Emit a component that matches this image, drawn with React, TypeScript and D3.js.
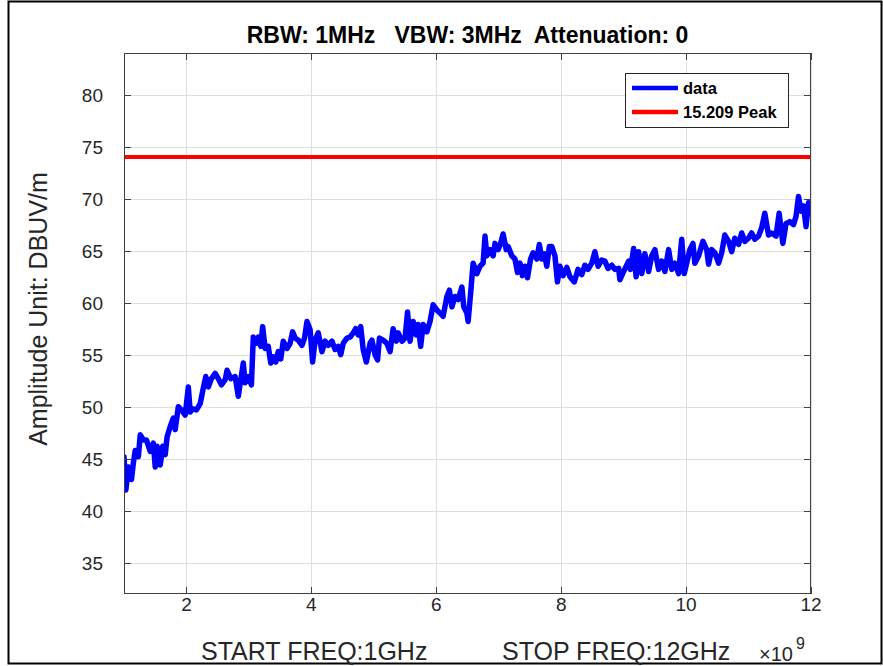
import React from "react";
import * as d3 from "d3";

// frequency in GHz (axis shows x10^9)
const freqGHz = [
  1.0, 1.03, 1.07, 1.12, 1.15, 1.18, 1.23, 1.26, 1.31, 1.36, 1.42, 1.47, 1.5, 1.53, 1.58, 1.62, 1.66, 1.69, 1.74, 1.79,
  1.82, 1.87, 1.92, 1.98, 2.03, 2.06, 2.1, 2.16, 2.22, 2.27, 2.31, 2.35, 2.4, 2.46, 2.51, 2.56, 2.62, 2.65, 2.71, 2.78,
  2.83, 2.91, 2.94, 2.99, 3.04, 3.07, 3.12, 3.15, 3.19, 3.22, 3.26, 3.31, 3.35, 3.39, 3.43, 3.47, 3.51, 3.55, 3.61, 3.66,
  3.7, 3.74, 3.79, 3.85, 3.89, 3.93, 3.98, 4.02, 4.06, 4.11, 4.17, 4.22, 4.27, 4.33, 4.38, 4.43, 4.47, 4.51, 4.57, 4.62,
  4.67, 4.71, 4.75, 4.79, 4.83, 4.88, 4.94, 4.97, 5.02, 5.06, 5.09, 5.15, 5.21, 5.26, 5.31, 5.36, 5.39, 5.45, 5.5, 5.54,
  5.58, 5.63, 5.68, 5.71, 5.75, 5.79, 5.85, 5.9, 5.95, 6.01, 6.06, 6.11, 6.17, 6.21, 6.25, 6.3, 6.35, 6.41, 6.44, 6.49,
  6.51, 6.55, 6.59, 6.65, 6.7, 6.75, 6.78, 6.81, 6.86, 6.91, 6.94, 6.99, 7.03, 7.07, 7.12, 7.15, 7.21, 7.26, 7.3, 7.34,
  7.38, 7.42, 7.46, 7.51, 7.55, 7.61, 7.65, 7.69, 7.73, 7.77, 7.81, 7.85, 7.9, 7.94, 7.98, 8.03, 8.09, 8.14, 8.21, 8.27,
  8.33, 8.38, 8.43, 8.49, 8.54, 8.59, 8.65, 8.7, 8.75, 8.81, 8.86, 8.92, 8.94, 9.0, 9.08, 9.11, 9.16, 9.2, 9.24, 9.29,
  9.34, 9.4, 9.45, 9.5, 9.56, 9.61, 9.66, 9.72, 9.77, 9.82, 9.88, 9.93, 9.97, 10.01, 10.06, 10.11, 10.14, 10.2, 10.27, 10.33,
  10.36, 10.41, 10.46, 10.52, 10.57, 10.62, 10.68, 10.73, 10.78, 10.84, 10.89, 10.94, 11.0, 11.05, 11.1, 11.16, 11.21, 11.26, 11.32, 11.37,
  11.44, 11.49, 11.55, 11.6, 11.66, 11.72, 11.76, 11.8, 11.84, 11.88, 11.92, 11.96, 12.0,
];

const amplitude = [
  45.2, 42, 44.2, 43, 44.6, 45.8, 45.2, 47.3, 46.8, 46.8, 45.7, 46.5, 44.2, 46.2, 44.4, 46.2, 45.4, 47.1, 48.1, 48.9,
  47.8, 50.0, 49.7, 49.2, 51.9, 49.5, 49.8, 49.7, 50.3, 51.8, 52.9, 51.9, 52.7, 53.2, 52.7, 52.1, 52.6, 53.5, 52.7, 52.9,
  51.0, 54.2, 52.3, 52.9, 52.1, 56.7, 56.1, 56.7, 55.8, 57.7, 55.6, 55.8, 54.2, 54.8, 54.3, 55.3, 54.6, 56.3, 55.6, 56.1,
  57.2, 56.6, 56.4, 55.9, 56.6, 58.2, 57.4, 54.3, 56.4, 57.1, 55.3, 56.3, 55.9, 56.3, 55.5, 55.8, 55.0, 56.1, 56.6, 56.7,
  57.1, 57.5, 56.9, 57.7, 55.5, 54.3, 56.1, 56.4, 55.0, 54.5, 56.6, 56.4, 56.1, 55.3, 57.5, 56.3, 57.1, 56.3, 56.6, 59.1,
  56.3, 58.2, 56.9, 57.9, 55.8, 57.9, 57.2, 58.2, 59.8, 59.3, 59.0, 58.7, 60.6, 61.2, 59.6, 60.6, 60.3, 61.5, 59.6, 59.0,
  58.2, 60.9, 63.8, 62.8, 63.5, 63.8, 66.4, 64.5, 65.1, 64.5, 65.7, 65.1, 65.7, 66.6, 65.1, 65.4, 64.5, 64.2, 62.9, 63.8,
  62.6, 63.5, 62.4, 64.2, 64.8, 64.2, 65.6, 64.2, 64.7, 63.5, 65.4, 65.4, 64.5, 62.0, 63.5, 62.6, 63.4, 62.5, 62.0, 63.2,
  62.7, 63.6, 63.2, 63.8, 64.9, 63.5, 64.1, 64.0, 63.3, 63.6, 63.2, 63.3, 62.2, 63.0, 64.0, 63.2, 65.2, 62.5, 64.9, 62.8,
  64.7, 63.0, 64.5, 65.1, 63.2, 64.0, 63.0, 65.1, 63.2, 63.8, 62.8, 66.1, 62.8, 63.8, 65.1, 65.7, 63.8, 64.5, 65.9, 65.1,
  63.7, 65.1, 64.8, 63.8, 64.8, 66.5, 65.9, 64.9, 66.2, 65.6, 66.7, 65.9, 66.2, 66.7, 66.1, 66.4, 67.2, 68.6, 66.5, 66.7,
  66.4, 68.6, 65.7, 67.6, 67.8, 67.5, 68.3, 70.2, 68.8, 69.3, 67.3, 69.6, 69.1,
];

const peakLimit = 74;
const xTicks = [2, 4, 6, 8, 10, 12];
const yTicks = [35, 40, 45, 50, 55, 60, 65, 70, 75, 80];
const legendItems = [
  { label: "data", color: "#0000ff" },
  { label: "15.209 Peak", color: "#ff0000" },
];

const W = 883;
const H = 666;
const plot = { left: 124, right: 811, top: 53, bottom: 594 };
const font = "'Liberation Sans', Arial, Helvetica, sans-serif";
const txt = "#262626";

export default function App() {
  const x = d3.scaleLinear().domain([1, 12]).range([plot.left, plot.right]);
  const y = d3.scaleLinear().domain([32, 84]).range([plot.bottom, plot.top]);

  const pts: [number, number][] = freqGHz.map((f, i) => [f, amplitude[i]]);
  const line = d3
    .line<[number, number]>()
    .x((d) => x(d[0]))
    .y((d) => y(d[1]));

  const tickLen = 7;

  return (
    <svg
      width={W}
      height={H}
      style={{ position: "absolute", left: 0, top: 0, background: "#fff" }}
      fontFamily={font}
    >
      <rect x={0} y={0} width={W} height={H} fill="#fff" />
      {/* outer frame */}
      <rect x={8.5} y={1.5} width={873} height={662} fill="none" stroke="#000" strokeWidth={2} />

      <defs>
        <clipPath id="plotclip">
          <rect x={plot.left} y={plot.top} width={plot.right - plot.left} height={plot.bottom - plot.top} />
        </clipPath>
      </defs>

      {/* grid */}
      <g stroke="#dfdfdf" strokeWidth={1}>
        {xTicks.map((t) => (
          <line key={"gx" + t} x1={Math.round(x(t)) + 0.5} x2={Math.round(x(t)) + 0.5} y1={plot.top} y2={plot.bottom} />
        ))}
        {yTicks.map((t) => (
          <line key={"gy" + t} x1={plot.left} x2={plot.right} y1={Math.round(y(t)) + 0.5} y2={Math.round(y(t)) + 0.5} />
        ))}
      </g>

      {/* series */}
      <g clipPath="url(#plotclip)">
        <line
          x1={x(1)}
          x2={x(12)}
          y1={y(peakLimit)}
          y2={y(peakLimit)}
          stroke="#ff0000"
          strokeWidth={4}
        />
        <path
          d={line(pts) || ""}
          fill="none"
          stroke="#0000ff"
          strokeWidth={5.5}
          strokeLinejoin="round"
          strokeLinecap="round"
        />
      </g>

      {/* axes box + ticks */}
      <g stroke="#404040" strokeWidth={1} fill="none">
        <rect
          x={plot.left + 0.5}
          y={plot.top + 0.5}
          width={plot.right - plot.left - 1}
          height={plot.bottom - plot.top - 1}
        />
        {xTicks.map((t) => {
          const px = Math.round(x(t)) + 0.5;
          return (
            <g key={"tx" + t}>
              <line x1={px} x2={px} y1={plot.bottom} y2={plot.bottom - tickLen} />
              <line x1={px} x2={px} y1={plot.top} y2={plot.top + tickLen} />
            </g>
          );
        })}
        {yTicks.map((t) => {
          const py = Math.round(y(t)) + 0.5;
          return (
            <g key={"ty" + t}>
              <line x1={plot.left} x2={plot.left + tickLen} y1={py} y2={py} />
              <line x1={plot.right} x2={plot.right - tickLen} y1={py} y2={py} />
            </g>
          );
        })}
      </g>

      {/* tick labels */}
      <g fill={txt} fontSize={19}>
        {xTicks.map((t) => (
          <text key={"lx" + t} x={x(t)} y={611} textAnchor="middle">
            {t}
          </text>
        ))}
        {yTicks.map((t) => (
          <text key={"ly" + t} x={103} y={y(t) + 7} textAnchor="end">
            {t}
          </text>
        ))}
      </g>

      {/* title */}
      <text
        x={(plot.left + plot.right) / 2}
        y={43}
        textAnchor="middle"
        fontWeight="bold"
        fontSize={23}
        fill="#000"
        style={{ whiteSpace: "pre" }}
      >
        {"RBW: 1MHz   VBW: 3MHz  Attenuation: 0"}
      </text>

      {/* axis labels */}
      <g fill={txt} fontSize={25}>
        <text x={201} y={660}>START FREQ:1GHz</text>
        <text x={502} y={660}>STOP FREQ:12GHz</text>
        <text transform={`translate(47,309) rotate(-90)`} textAnchor="middle">
          Amplitude Unit: DBUV/m
        </text>
      </g>
      <g fill={txt}>
        <text x={759} y={661} fontSize={20}>
          ×10
        </text>
        <text x={796} y={649} fontSize={16}>
          9
        </text>
      </g>

      {/* legend */}
      <g>
        <rect x={625.5} y={73.5} width={163} height={54} fill="#fff" stroke="#262626" strokeWidth={1} />
        {legendItems.map((d, i) => (
          <g key={d.label}>
            <line x1={632} x2={678} y1={88 + i * 24} y2={88 + i * 24} stroke={d.color} strokeWidth={4.5} />
            <text x={683} y={88 + i * 24 + 6} fontSize={16.5} fontWeight="bold" fill="#000">
              {d.label}
            </text>
          </g>
        ))}
      </g>
    </svg>
  );
}
